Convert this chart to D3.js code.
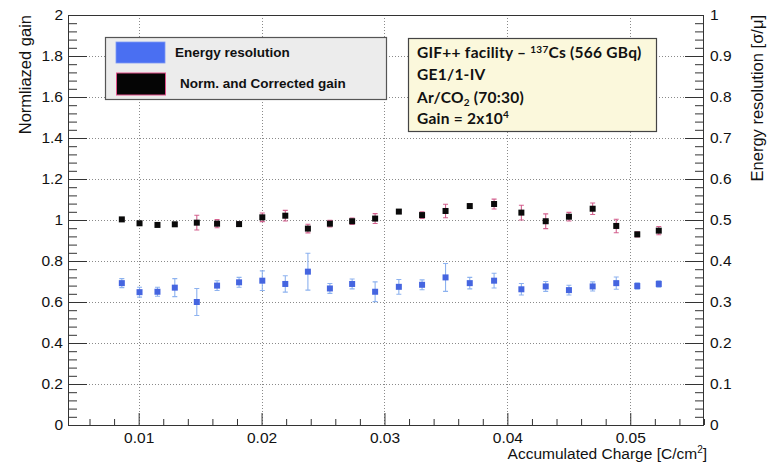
<!DOCTYPE html>
<html>
<head>
<meta charset="utf-8">
<script src="https://cdn.jsdelivr.net/npm/d3@7"></script>
<style>
  html, body { margin: 0; padding: 0; background: #fff; }
  svg { display: block; }
  text { font-family: "Liberation Sans", Arial, Helvetica, sans-serif; fill: #111; }
</style>
</head>
<body>
<svg id="chart" width="767" height="466"></svg>
<script>
// ---- data ----
const charge = [0.00863, 0.01007, 0.01153, 0.01294, 0.01473, 0.01638, 0.01817, 0.02006, 0.02193, 0.02377,
                0.02556, 0.02737, 0.02924, 0.03117, 0.03306, 0.03497, 0.03694, 0.03892, 0.04114, 0.04312,
                0.04501, 0.04694, 0.04886, 0.05057, 0.05232];
const gain = [1.003, 0.984, 0.976, 0.979, 0.987, 0.982, 0.980, 1.013, 1.021, 0.958,
              0.982, 0.994, 1.007, 1.041, 1.024, 1.044, 1.068, 1.078, 1.036, 0.994,
              1.016, 1.055, 0.971, 0.930, 0.948];
const gainErr = [0.003, 0.007, 0.004, 0.008, 0.036, 0.020, 0.011, 0.021, 0.026, 0.021,
                 0.016, 0.016, 0.024, 0.008, 0.016, 0.033, 0.010, 0.024, 0.036, 0.036,
                 0.021, 0.028, 0.033, 0.013, 0.020];
const resolution = [0.346, 0.324, 0.325, 0.335, 0.300, 0.340, 0.348, 0.352, 0.344, 0.374,
                    0.333, 0.344, 0.325, 0.337, 0.342, 0.360, 0.346, 0.352, 0.331, 0.338,
                    0.329, 0.338, 0.346, 0.339, 0.344];
const resolutionErr = [0.011, 0.012, 0.011, 0.022, 0.033, 0.012, 0.012, 0.024, 0.020, 0.045,
                       0.012, 0.012, 0.024, 0.018, 0.012, 0.034, 0.014, 0.018, 0.014, 0.012,
                       0.012, 0.011, 0.015, 0.008, 0.008];
const xTicks = [0.01, 0.02, 0.03, 0.04, 0.05];
const yLeftTicks = [0, 0.2, 0.4, 0.6, 0.8, 1, 1.2, 1.4, 1.6, 1.8, 2];
const yRightTicks = [0, 0.1, 0.2, 0.3, 0.4, 0.5, 0.6, 0.7, 0.8, 0.9, 1];
const legendLabels = ["Energy resolution", "Norm. and Corrected gain"];

// ---- layout ----
const L = 68, R = 704, T = 15, B = 425;
const svg = d3.select("#chart");
const x = d3.scaleLinear().domain([0.00425, 0.056]).range([L, R]);
const yL = d3.scaleLinear().domain([0, 2]).range([B, T]);
const yR = d3.scaleLinear().domain([0, 1]).range([B, T]);
const fmt = d3.format("~g");

// grid
const grid = svg.append("g").attr("stroke", "#8a8a8a").attr("stroke-width", 1).attr("stroke-dasharray", "1,2");
grid.selectAll("line.gx").data(xTicks).join("line")
  .attr("x1", d => Math.round(x(d)) + 0.5).attr("x2", d => Math.round(x(d)) + 0.5)
  .attr("y1", T).attr("y2", B);
grid.selectAll("line.gy").data(yLeftTicks.filter(d => d > 0 && d < 2)).join("line")
  .attr("y1", d => Math.round(yL(d)) + 0.5).attr("y2", d => Math.round(yL(d)) + 0.5)
  .attr("x1", L).attr("x2", R);

function styleAxis(g) {
  g.select(".domain").remove();
  g.selectAll(".tick line").attr("stroke", "#333");
  g.selectAll("text").attr("font-size", "15.5px").attr("fill", "#111")
   .style("font-family", '"Liberation Sans", Arial, sans-serif');
}
const minorX = d3.range(0.006, 0.0561, 0.002).filter(v => !xTicks.some(t => Math.abs(t - v) < 1e-6));
const minorY = d3.range(0, 2.0001, 0.04).filter(v => !yLeftTicks.some(t => Math.abs(t - v) < 1e-6));
const minorYR = minorY.map(v => v / 2);

// bottom axis
svg.append("g").attr("transform", `translate(0,${B})`)
  .call(d3.axisBottom(x).tickValues(xTicks).tickFormat(fmt).tickSizeInner(-12).tickSizeOuter(0).tickPadding(7))
  .call(styleAxis);
svg.append("g").attr("transform", `translate(0,${B})`)
  .call(d3.axisBottom(x).tickValues(minorX).tickFormat("").tickSizeInner(-6).tickSizeOuter(0))
  .call(styleAxis);
// left axis
svg.append("g").attr("transform", `translate(${L},0)`)
  .call(d3.axisLeft(yL).tickValues(yLeftTicks).tickFormat(fmt).tickSizeInner(-19).tickSizeOuter(0).tickPadding(5))
  .call(styleAxis);
svg.append("g").attr("transform", `translate(${L},0)`)
  .call(d3.axisLeft(yL).tickValues(minorY).tickFormat("").tickSizeInner(-9).tickSizeOuter(0))
  .call(styleAxis);
// right axis
svg.append("g").attr("transform", `translate(${R},0)`)
  .call(d3.axisRight(yR).tickValues(yRightTicks).tickFormat(fmt).tickSizeInner(-19).tickSizeOuter(0).tickPadding(6))
  .call(styleAxis);
svg.append("g").attr("transform", `translate(${R},0)`)
  .call(d3.axisRight(yR).tickValues(minorYR).tickFormat("").tickSizeInner(-9).tickSizeOuter(0))
  .call(styleAxis);

// frame
svg.append("rect").attr("x", L + 0.5).attr("y", T + 0.5).attr("width", R - L - 1).attr("height", B - T)
  .attr("fill", "none").attr("stroke", "#333").attr("stroke-width", 1);

// axis titles
svg.append("text").attr("transform", `translate(31,${T}) rotate(-90)`).attr("text-anchor", "end")
  .attr("font-size", "16.5px").text("Normliazed gain");
svg.append("text").attr("transform", `translate(763,${T}) rotate(-90)`).attr("text-anchor", "end")
  .attr("font-size", "16.5px").text("Energy resolution [σ/μ]");
const xt = svg.append("text").attr("x", 707).attr("y", 459).attr("text-anchor", "end").attr("font-size", "15.5px");
xt.append("tspan").text("Accumulated Charge [C/cm");
xt.append("tspan").attr("font-size", "10px").attr("dy", "-6").text("2");
xt.append("tspan").attr("dy", "6").text("]");

// data series
const pts = charge.map((c, i) => ({c, g: gain[i], ge: gainErr[i], r: resolution[i], re: resolutionErr[i]}));
const cap = 2.5, ms = 6;

// energy resolution (right axis)
const blue = svg.append("g");
blue.selectAll("path.err").data(pts).join("path")
  .attr("d", d => {
    const px = x(d.c), y1 = yR(d.r - d.re), y2 = yR(d.r + d.re);
    return `M${px},${y1}V${y2}M${px - cap},${y1}H${px + cap}M${px - cap},${y2}H${px + cap}`;
  })
  .attr("stroke", "#8db2ef").attr("stroke-width", 1.1).attr("fill", "none");
blue.selectAll("rect").data(pts).join("rect")
  .attr("x", d => x(d.c) - ms / 2).attr("y", d => yR(d.r) - ms / 2)
  .attr("width", ms).attr("height", ms).attr("fill", "#4565e0");

// gain (left axis)
const black = svg.append("g");
black.selectAll("path.err").data(pts).join("path")
  .attr("d", d => {
    const px = x(d.c), y1 = yL(d.g - d.ge), y2 = yL(d.g + d.ge);
    return `M${px},${y1}V${y2}M${px - cap},${y1}H${px + cap}M${px - cap},${y2}H${px + cap}`;
  })
  .attr("stroke", "#d4628f").attr("stroke-width", 1.1).attr("fill", "none");
black.selectAll("rect").data(pts).join("rect")
  .attr("x", d => x(d.c) - ms / 2).attr("y", d => yL(d.g) - ms / 2)
  .attr("width", ms).attr("height", ms).attr("fill", "#0a0a0a");

// legend
const lg = svg.append("g");
lg.append("rect").attr("x", 105.5).attr("y", 37.5).attr("width", 281).attr("height", 62)
  .attr("fill", "#ececec").attr("stroke", "#555").attr("stroke-width", 1.2);
lg.append("rect").attr("x", 116).attr("y", 42).attr("width", 49).attr("height", 21).attr("fill", "#4a6ff2")
  .attr("stroke", "#7d9af5").attr("stroke-width", 0.8);
lg.append("rect").attr("x", 116.5).attr("y", 73).attr("width", 49).attr("height", 22).attr("fill", "#050505")
  .attr("stroke", "#e0508a").attr("stroke-width", 1);
lg.append("text").attr("x", 175).attr("y", 57).attr("font-size", "13.5px").attr("font-weight", "bold").text(legendLabels[0]);
lg.append("text").attr("x", 180).attr("y", 88).attr("font-size", "13.5px").attr("font-weight", "bold").text(legendLabels[1]);

// info box
const ib = svg.append("g");
ib.append("rect").attr("x", 408.5).attr("y", 38.5).attr("width", 248).attr("height", 93)
  .attr("fill", "#fbf8dc").attr("stroke", "#444").attr("stroke-width", 1.2);
const infoFont = 'Lato, "Open Sans", sans-serif';
function infoLine(y) {
  return ib.append("text").attr("x", 417).attr("y", y).attr("font-size", "15.5px")
    .attr("font-weight", "bold").attr("letter-spacing", "0.25px").style("font-family", infoFont);
}
const l1 = infoLine(58);
l1.append("tspan").text("GIF++ facility – ");
l1.append("tspan").attr("font-size", "10px").attr("dy", "-5").text("137");
l1.append("tspan").attr("dy", "5").text("Cs (566 GBq)");
infoLine(80).text("GE1/1-IV");
const l3 = infoLine(102.5);
l3.append("tspan").text("Ar/CO");
l3.append("tspan").attr("font-size", "10px").attr("dy", "3").text("2");
l3.append("tspan").attr("dy", "-3").text(" (70:30)");
const l4 = infoLine(123.5);
l4.append("tspan").text("Gain = 2x10");
l4.append("tspan").attr("font-size", "10px").attr("dy", "-6").text("4");
</script>
</body>
</html>
